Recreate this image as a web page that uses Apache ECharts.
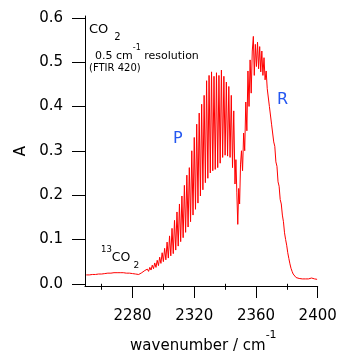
<!DOCTYPE html>
<html><head><meta charset="utf-8">
<script src="https://cdn.jsdelivr.net/npm/echarts@6/dist/echarts.min.js"></script>
<style>html,body{margin:0;padding:0;background:#fff}#c{width:355px;height:355px}</style>
</head><body><div id="c"></div>
<script>
// baseline region (13CO2 band wing)
const baseWn = [2250,2251,2252,2253,2254,2255,2256,2257,2258,2259,2260,2261,2262,2263,2264,2265,2266,2267,2268,2269,2270,2271,2272,2273,2274,2275,2276,2277,2278,2279,2280,2281,2282,2283,2284,2285,2286,2287];
const baseA = [0.020,0.023,0.020,0.023,0.021,0.024,0.021,0.025,0.022,0.025,0.022,0.026,0.023,0.027,0.024,0.028,0.024,0.028,0.025,0.029,0.025,0.028,0.025,0.028,0.025,0.027,0.024,0.027,0.024,0.025,0.023,0.024,0.022,0.023,0.021,0.023,0.025,0.027];
// P branch
const pWn = [2288.0,2288.8,2289.6,2290.4,2291.2,2292.0,2292.8,2293.6,2294.4,2295.2,2296.0,2296.8,2297.6,2298.4,2299.2,2300.0,2300.8,2301.6,2302.4,2303.2,2304.0,2304.8,2305.6,2306.4,2307.2,2308.0,2308.8,2309.6,2310.4,2311.2,2312.0,2312.8,2313.6,2314.4,2315.2,2316.0,2316.8,2317.6,2318.4,2319.2,2320.0,2320.8,2321.6,2322.4,2323.2,2324.0,2324.8,2325.6,2326.4,2327.2,2328.0,2328.8,2329.6,2330.4,2331.2,2332.0,2332.8,2333.6,2334.4,2335.2,2336.0,2336.8,2337.6,2338.4,2339.2,2340.0,2340.8,2341.6,2342.4,2343.2,2344.0,2344.8,2345.6,2346.4];
const pA = [0.030,0.026,0.033,0.028,0.037,0.031,0.042,0.034,0.047,0.037,0.053,0.041,0.060,0.046,0.070,0.050,0.080,0.054,0.094,0.058,0.108,0.063,0.125,0.068,0.143,0.076,0.162,0.085,0.180,0.095,0.198,0.104,0.222,0.116,0.245,0.128,0.262,0.140,0.300,0.155,0.330,0.168,0.360,0.182,0.385,0.198,0.405,0.212,0.425,0.228,0.458,0.238,0.470,0.250,0.478,0.255,0.468,0.258,0.476,0.262,0.470,0.272,0.482,0.285,0.468,0.290,0.455,0.288,0.445,0.285,0.425,0.262,0.390,0.225];
// Q gap and R branch
const rWn = [2347.0,2347.6,2348.2,2348.8,2349.4,2350.0,2350.6,2351.3,2352.0,2352.7,2353.4,2354.1,2354.8,2355.5,2356.2,2356.9,2357.6,2358.3,2358.9,2359.6,2360.3,2361.0,2361.7,2362.4,2363.1,2363.8,2364.5,2365.2,2365.9,2366.6,2367.3,2368.0,2368.7,2369.4,2370.1,2370.8,2371.5,2372.2,2372.9,2373.6,2374.3,2375.0,2375.7,2376.4,2377.1,2377.8,2378.5,2379.2,2379.9,2380.6,2381.3,2382.0,2382.7,2383.4,2384.1,2385.0];
const rA = [0.280,0.205,0.134,0.215,0.180,0.270,0.300,0.255,0.340,0.300,0.410,0.345,0.480,0.400,0.505,0.430,0.525,0.558,0.470,0.540,0.490,0.545,0.485,0.535,0.478,0.525,0.470,0.510,0.460,0.480,0.440,0.440,0.400,0.400,0.360,0.360,0.320,0.310,0.275,0.265,0.230,0.220,0.190,0.180,0.155,0.140,0.115,0.100,0.087,0.070,0.057,0.045,0.035,0.028,0.022,0.018];
// high-wavenumber tail
const tailWn = [2386,2387,2388,2389,2390,2391,2392,2393,2394,2395,2396,2397,2398,2399,2399.6];
const tailA = [0.014,0.012,0.012,0.011,0.011,0.010,0.011,0.010,0.011,0.012,0.013,0.012,0.011,0.012,0.010];

const xMajorTicks = [2280,2320,2360,2400];
const xMinorTicks = [2260,2300,2340,2380];
const yTicks = [0,0.1,0.2,0.3,0.4,0.5,0.6];

const wn = baseWn.concat(pWn, rWn, tailWn);
const ab = baseA.concat(pA, rA, tailA);
const data = wn.map((w, i) => [w, ab[i]]);

const FONT = 'DejaVu Sans';
const BLUE = '#2457f0';
const black = '#000';

const chart = echarts.init(document.getElementById('c'), null, {renderer: 'canvas'});
chart.setOption({
  animation: false,
  backgroundColor: '#fff',
  grid: {left: 85, right: 37.3, top: 16, bottom: 69, containLabel: false, outerBoundsMode: 'none'},
  xAxis: [{
    type: 'value', min: 2249.2, max: 2400, position: 'bottom',
    name: '{m|wavenumber / cm}{s|-1}', nameLocation: 'middle', nameGap: 44,
    nameTextStyle: {color: black, fontFamily: FONT, padding: [0, 0, 0, 4], rich: {
      m: {fontSize: 15, fontFamily: FONT, color: black, lineHeight: 33},
      s: {fontSize: 11, fontFamily: FONT, color: black, lineHeight: 11, verticalAlign: 'top'}
    }},
    axisLine: {show: true, onZero: false, lineStyle: {color: black, width: 1}},
    axisTick: {show: true, inside: false, length: 12, customValues: xMajorTicks, lineStyle: {color: black, width: 1}},
    axisLabel: {show: true, customValues: xMajorTicks, margin: 23, color: black, fontFamily: FONT, fontSize: 15, formatter: v => String(v)},
    splitLine: {show: false}
  }, {
    type: 'value', min: 2249.2, max: 2400, position: 'bottom', offset: 0, gridIndex: 0,
    axisLine: {show: false},
    axisTick: {show: true, inside: false, length: 6, customValues: xMinorTicks, lineStyle: {color: black, width: 1}},
    axisLabel: {show: false},
    splitLine: {show: false}
  }],
  yAxis: {
    type: 'value', min: -0.005, max: 0.604,
    name: 'A', nameLocation: 'middle', nameGap: 56,
    nameTextStyle: {color: black, fontFamily: FONT, fontSize: 15},
    axisLine: {show: true, onZero: false, lineStyle: {color: black, width: 1}},
    axisTick: {show: true, inside: false, length: 13, customValues: yTicks, lineStyle: {color: black, width: 1}},
    axisLabel: {show: true, customValues: yTicks, margin: 22, color: black, fontFamily: FONT, fontSize: 15, formatter: v => v.toFixed(1)},
    splitLine: {show: false}
  },
  series: [{
    type: 'line', data: data, xAxisIndex: 0, yAxisIndex: 0,
    symbol: 'none', showSymbol: false, smooth: false, sampling: null,
    lineStyle: {color: '#ff0000', width: 1}, itemStyle: {color: '#ff0000'},
    clip: true, silent: true
  }],
  graphic: [
    {type: 'text', x: 89, y: 23, silent: true, style: {
      text: '{m|CO}{s|2}', align: 'left', verticalAlign: 'top', fill: black,
      rich: {
        m: {fontSize: 13, fontFamily: FONT, fill: black, lineHeight: 13, verticalAlign: 'top'},
        s: {fontSize: 10, fontFamily: FONT, fill: black, lineHeight: 29, padding: [0, 0, 0, 6]}
      }}},
    {type: 'text', x: 95, y: 44, silent: true, style: {
      text: '{m|0.5 cm}{s|-1}{m| resolution}', align: 'left', verticalAlign: 'top', fill: black,
      rich: {
        m: {fontSize: 11, fontFamily: FONT, fill: black, lineHeight: 25},
        s: {fontSize: 8, fontFamily: FONT, fill: black, lineHeight: 8, verticalAlign: 'top'}
      }}},
    {type: 'text', x: 89, y: 63, silent: true, style: {
      text: '(FTIR 420)', align: 'left', verticalAlign: 'top', fill: black,
      fontSize: 10, fontFamily: FONT}},
    {type: 'text', x: 101, y: 245, silent: true, style: {
      text: '{u|13}{m|CO}{d|2}', align: 'left', verticalAlign: 'top', fill: black,
      rich: {
        u: {fontSize: 8.5, fontFamily: FONT, fill: black, lineHeight: 8, verticalAlign: 'top'},
        m: {fontSize: 12.5, fontFamily: FONT, fill: black, lineHeight: 25},
        d: {fontSize: 9, fontFamily: FONT, fill: black, lineHeight: 17, verticalAlign: 'bottom', padding: [0, 0, 0, 3]}
      }}},
    {type: 'text', x: 173, y: 130.5, silent: true, style: {
      text: 'P', align: 'left', verticalAlign: 'top', fill: BLUE, fontSize: 16, fontFamily: FONT}},
    {type: 'text', x: 277, y: 92, silent: true, style: {
      text: 'R', align: 'left', verticalAlign: 'top', fill: BLUE, fontSize: 16, fontFamily: FONT}}
  ]
});
</script>
</body></html>
